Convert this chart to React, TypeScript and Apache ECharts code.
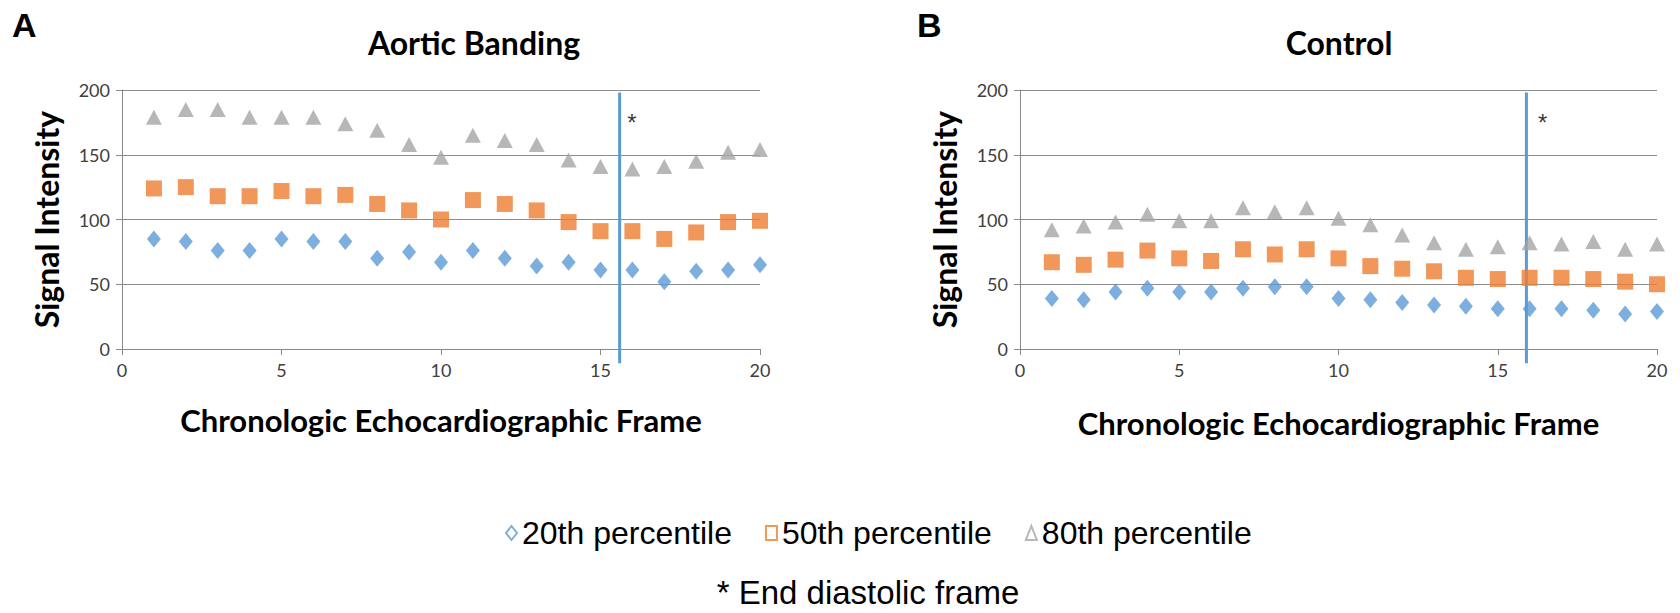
import React, { useEffect, useRef } from "react";
import * as echarts from "echarts";

const frames = [1, 2, 3, 4, 5, 6, 7, 8, 9, 10, 11, 12, 13, 14, 15, 16, 17, 18, 19, 20];

const bandP20 = [85, 83, 76, 76, 85, 83, 83, 70, 75, 67, 76, 70, 64, 67, 61, 61, 52, 60, 61, 65];
const bandP50 = [124, 125, 118, 118, 122, 118, 119, 112, 107, 100, 115, 112, 107, 98, 91, 91, 85, 90, 98, 99];
const bandP80 = [179, 185, 185, 179, 179, 179, 174, 169, 158, 148, 165, 161, 158, 146, 141, 139, 141, 145, 152, 154];

const ctrlP20 = [39, 38, 44, 47, 44, 44, 47, 48, 48, 39, 38, 36, 34, 33, 31, 31, 31, 30, 27, 29];
const ctrlP50 = [67, 65, 69, 76, 70, 68, 77, 73, 77, 70, 64, 62, 60, 55, 54, 55, 55, 54, 52, 50];
const ctrlP80 = [92, 95, 98, 104, 99, 99, 109, 106, 109, 101, 96, 88, 82, 77, 79, 82, 81, 83, 77, 81];

const seriesNames = ["20th percentile", "50th percentile", "80th percentile"];
const endDiastolic = [15.6, 15.9];
const panelTitles = ["Aortic Banding", "Control"];
const panelLetters = ["A", "B"];

const BLUE = "#5B9BD5";
const ORANGE = "#ED7D31";
const GRAY = "#A5A5A5";
const TICK_FONT = "Lato, 'Open Sans', sans-serif";
const SANS = "'Liberation Sans', Arial, sans-serif";

function pairs(ys: number[]) {
  return frames.map((x, i) => [x, ys[i]]);
}

export default function App() {
  const ref = useRef<HTMLDivElement>(null);
  useEffect(() => {
    if (!ref.current) return;
    const chart = echarts.init(ref.current, undefined, { renderer: "svg" });
    const grids = [
      { left: 122, right: 920, top: 90, bottom: 264 },
      { left: 1020, right: 23, top: 90, bottom: 264 },
    ];
    const xAxes = grids.map((_, i) => ({
      type: "value",
      gridIndex: i,
      min: 0,
      max: 20,
      interval: 5,
      name: "Chronologic Echocardiographic Frame",
      nameLocation: "middle",
      nameGap: i === 0 ? 55 : 58,
      nameTextStyle: { fontFamily: TICK_FONT, fontWeight: "bold", fontSize: 31, color: "#000" },
      axisLine: { show: true, onZero: false, lineStyle: { color: "#888", width: 1 } },
      axisTick: { show: true, length: 6, lineStyle: { color: "#888" } },
      axisLabel: { fontFamily: TICK_FONT, fontSize: 18, color: "#404040", margin: 12 },
      splitLine: { show: false },
    }));
    const yAxes = grids.map((_, i) => ({
      type: "value",
      gridIndex: i,
      min: 0,
      max: 200,
      interval: 50,
      name: "Signal Intensity",
      nameLocation: "middle",
      nameGap: 60,
      nameTextStyle: { fontFamily: TICK_FONT, fontWeight: "bold", fontSize: 32, color: "#000" },
      axisLine: { show: true, lineStyle: { color: "#888", width: 1 } },
      axisTick: { show: true, length: 6, lineStyle: { color: "#888" } },
      axisLabel: { fontFamily: TICK_FONT, fontSize: 18, color: "#404040", margin: 12 },
      splitLine: { show: true, lineStyle: { color: "#8c8c8c", width: 1 } },
    }));

    const datasets = [
      [bandP20, bandP50, bandP80],
      [ctrlP20, ctrlP50, ctrlP80],
    ];
    const symbols = [
      { symbol: "diamond", size: [14, 17], color: BLUE },
      { symbol: "rect", size: [16, 16], color: ORANGE },
      { symbol: "triangle", size: [16, 15], color: GRAY },
    ];
    const series: any[] = [];
    datasets.forEach((set, gi) => {
      set.forEach((ys, si) => {
        series.push({
          type: "scatter",
          name: seriesNames[si],
          xAxisIndex: gi,
          yAxisIndex: gi,
          symbol: symbols[si].symbol,
          symbolSize: symbols[si].size,
          itemStyle: { color: symbols[si].color },
          data: pairs(ys),
        });
      });
      series.push({
        type: "line",
        name: "End diastolic " + gi,
        xAxisIndex: gi,
        yAxisIndex: gi,
        clip: false,
        symbol: "none",
        lineStyle: { color: BLUE, width: 3 },
        data: [
          [endDiastolic[gi], 198],
          [endDiastolic[gi], -11],
        ],
        z: 1,
      });
      series.push({
        type: "scatter",
        name: "asterisk " + gi,
        xAxisIndex: gi,
        yAxisIndex: gi,
        symbolSize: 1,
        itemStyle: { color: "transparent" },
        label: {
          show: true,
          formatter: "*",
          position: "right",
          distance: gi === 0 ? 7 : 11,
          fontFamily: SANS,
          fontSize: 24,
          color: "#000",
        },
        data: [[endDiastolic[gi], 175]],
      });
    });

    const legendIcon = (si: number) => ({
      name: seriesNames[si],
      icon: symbols[si].symbol,
      itemStyle: { color: "transparent", borderColor: symbols[si].color, borderWidth: 2 },
    });

    chart.setOption({
      animation: false,
      backgroundColor: "#fff",
      grid: grids,
      xAxis: xAxes,
      yAxis: yAxes,
      series,
      legend: {
        data: [0, 1, 2].map(legendIcon),
        left: 500,
        top: 512,
        itemGap: 33,
        itemWidth: 11,
        itemHeight: 14,
        selectedMode: false,
        textStyle: { fontFamily: SANS, fontSize: 32, color: "#000" },
      },
      graphic: [
        {
          type: "text",
          left: 12,
          top: 8,
          style: { text: panelLetters[0], font: "bold 34px 'Liberation Sans', Arial, sans-serif", fill: "#000" },
        },
        {
          type: "text",
          left: 917,
          top: 8,
          style: { text: panelLetters[1], font: "bold 34px 'Liberation Sans', Arial, sans-serif", fill: "#000" },
        },
        {
          type: "text",
          x: 474,
          y: 42,
          style: {
            text: panelTitles[0],
            font: "bold 32px Lato, sans-serif",
            fill: "#000",
            textAlign: "center",
            textVerticalAlign: "middle",
          },
        },
        {
          type: "text",
          x: 1339,
          y: 42,
          style: {
            text: panelTitles[1],
            font: "bold 32px Lato, sans-serif",
            fill: "#000",
            textAlign: "center",
            textVerticalAlign: "middle",
          },
        },
        {
          type: "text",
          x: 868,
          y: 592,
          style: {
            text: "* End diastolic frame",
            font: "33px 'Liberation Sans', Arial, sans-serif",
            fill: "#000",
            textAlign: "center",
            textVerticalAlign: "middle",
          },
        },
      ],
    });
    return () => chart.dispose();
  }, []);
  return (
    <div
      ref={ref}
      style={{ position: "fixed", left: 0, top: 0, width: 1680, height: 613, background: "#fff" }}
    />
  );
}
